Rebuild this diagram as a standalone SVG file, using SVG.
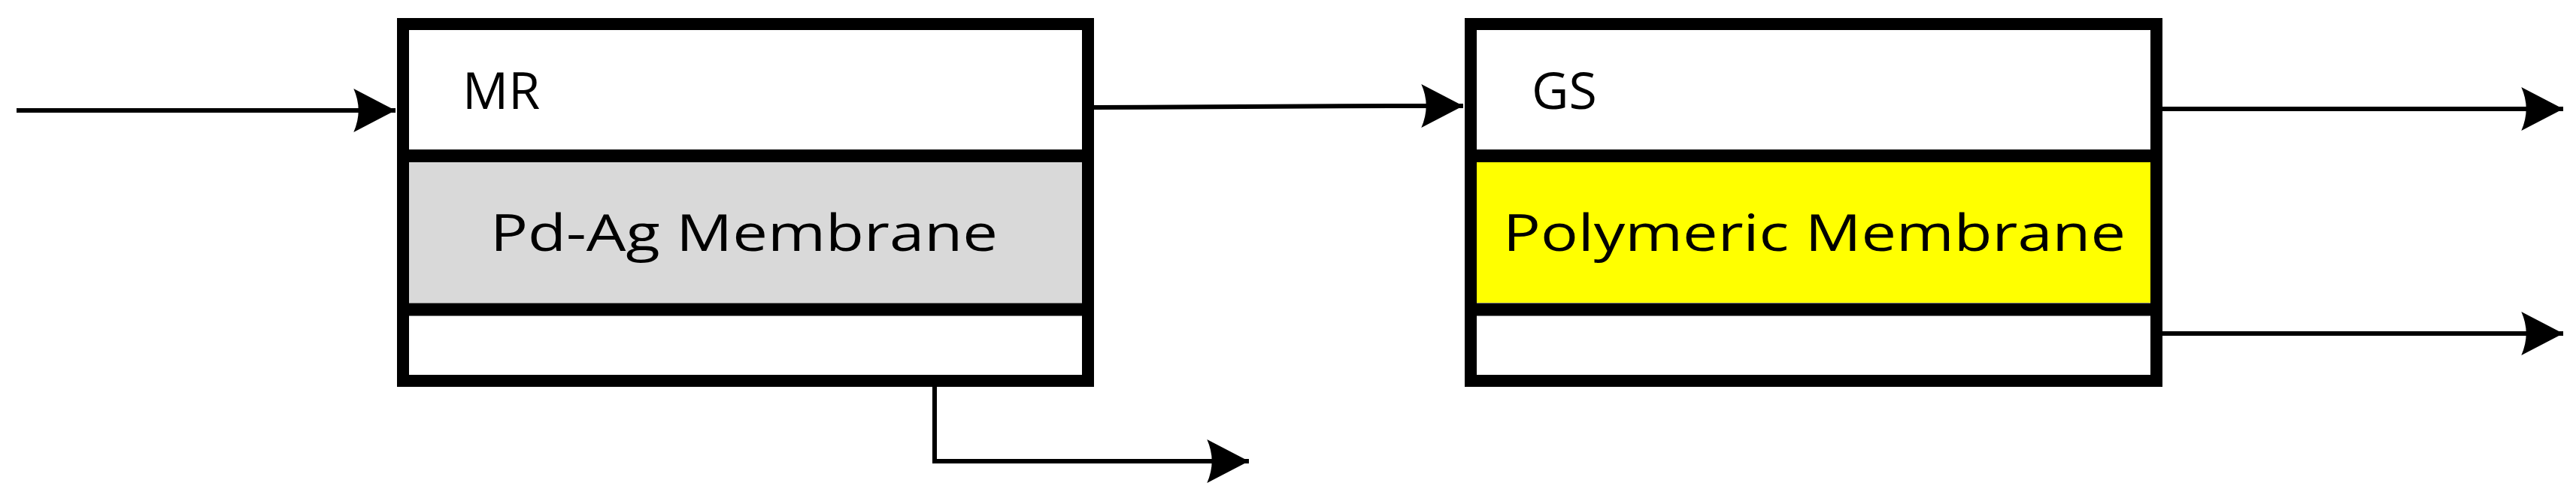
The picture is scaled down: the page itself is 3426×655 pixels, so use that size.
<svg xmlns="http://www.w3.org/2000/svg" width="3426" height="655" viewBox="0 0 3426 655">
<style>
.box{fill:#fff;stroke:#000;stroke-width:16}
.div{stroke:#000;stroke-width:17}
.ln{fill:none;stroke:#000;stroke-width:6}
.t{font-family:"Open Sans","Liberation Sans",sans-serif;font-size:68px;fill:#000}
</style>
<defs>
<marker id="ah" markerUnits="userSpaceOnUse" markerWidth="60" markerHeight="60" viewBox="-52 -28 54 56" refX="0" refY="0" orient="auto">
<path d="M0,0 L-52,-27 Q-40,0 -52,27 Z" fill="#000"/>
</marker>
</defs>
<g id="MR">
<rect class="box" x="536" y="32" width="911" height="475"/>
<rect x="544" y="216" width="895" height="187" fill="#D9D9D9"/>
<line class="div" x1="536" y1="207.5" x2="1447" y2="207.5"/>
<line class="div" x1="536" y1="412" x2="1447" y2="412"/>
<text class="t" x="615" y="145">MR</text>
<text class="t" x="652" y="334" textLength="675" lengthAdjust="spacingAndGlyphs">Pd-Ag Membrane</text>
</g>
<g id="GS">
<rect class="box" x="1956" y="32" width="912" height="475"/>
<rect x="1964" y="216" width="896" height="187" fill="#FFFF00"/>
<line class="div" x1="1956" y1="207.5" x2="2868" y2="207.5"/>
<line class="div" x1="1956" y1="412" x2="2868" y2="412"/>
<text class="t" x="2037" y="145">GS</text>
<text class="t" x="1999" y="334" textLength="828" lengthAdjust="spacingAndGlyphs">Polymeric Membrane</text>
</g>
<g id="connectors">
<path class="ln" d="M22,147 L526,147" marker-end="url(#ah)"/>
<path class="ln" d="M1455,143 L1850,141 L1946,141" marker-end="url(#ah)"/>
<path class="ln" d="M1243,515 L1243,614 L1661,614" marker-end="url(#ah)"/>
<path class="ln" d="M2876,145 L3409,145" marker-end="url(#ah)"/>
<path class="ln" d="M2876,444 L3409,444" marker-end="url(#ah)"/>
</g>
</svg>
